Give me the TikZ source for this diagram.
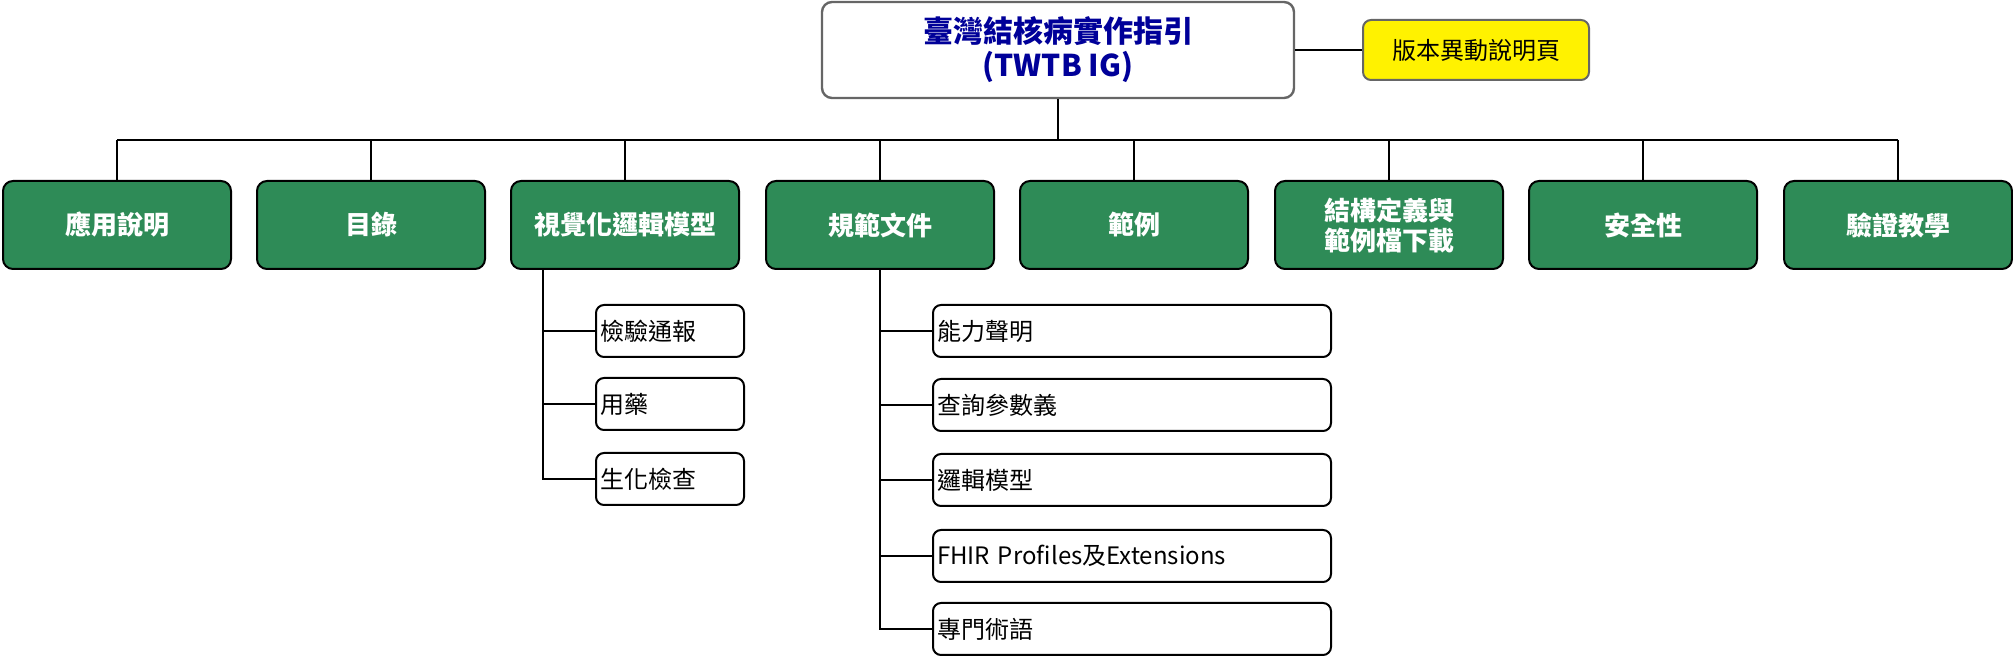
\documentclass[tikz,border=0pt]{standalone}
\usepackage{fontspec}
\setmainfont{Noto Sans CJK TC}
\begin{document}
\begin{tikzpicture}[x=0.5pt,y=-0.5pt,
 top/.style={draw=gray!80!black,line width=1.2pt,rounded corners=5pt,fill=white,minimum width=236pt,minimum height=48pt,align=center,font=\fontsize{15}{17}\selectfont\bfseries,text=blue!60!black},
 yel/.style={draw=gray!80!black,line width=1pt,rounded corners=4pt,fill=yellow,minimum width=113pt,minimum height=30pt,font=\fontsize{12}{14}\selectfont},
 grn/.style={draw=black,line width=1pt,rounded corners=5pt,fill={rgb,255:red,46;green,139;blue,87},text=white,minimum width=114pt,minimum height=44pt,align=center,font=\fontsize{13}{15}\selectfont\bfseries},
 sub/.style={draw=black,line width=1pt,rounded corners=4pt,fill=white,minimum height=26pt,anchor=west,text width=#1,inner xsep=2pt,align=left,font=\fontsize{12}{14}\selectfont},
 ln/.style={line width=1.2pt}]
\useasboundingbox (0,0) rectangle (2013,656);
\node[top] (t) at (1058,50) {臺灣結核病實作指引\\(TWTB IG)};
\node[yel] (y) at (1476,50) {版本異動說明頁};
\draw[ln] (t.east) -- (y.west);
\coordinate (b) at (1058,140);
\draw[ln] (t.south) -- (b);
\draw[ln] (117,140) -- (1898,140);
\foreach \n/\x/\t in {g1/117/應用說明,g2/371/目錄,g3/625/視覺化邏輯模型,g4/880/規範文件,g5/1134/範例,g6/1389/{結構定義與\\範例檔下載},g7/1643/安全性,g8/1898/驗證教學}{
 \coordinate (c\n) at (\x,140);
 \node[grn] (\n) at (\x,225) {\t};
 \draw[ln] (c\n) -- (\n.north);
}
\foreach \n/\y/\t in {v1/331/檢驗通報,v2/404/用藥,v3/479/生化檢查}{
 \node[sub=70pt] (\n) at (595,\y) {\t};
}
\coordinate (v) at (543,479);
\draw[ln] (g3.south -| v) -- (v) -- (v3.west);
\foreach \n in {v1,v2} \draw[ln] (\n.west -| v) -- (\n.west);
\foreach \n/\y/\t in {s1/331/能力聲明,s2/405/查詢參數義,s3/480/邏輯模型,s4/556/FHIR Profiles及Extensions,s5/629/專門術語}{
 \node[sub=195pt] (\n) at (932,\y) {\t};
}
\coordinate (s) at (880,629);
\draw[ln] (g4.south) -- (s) -- (s5.west);
\foreach \n in {s1,s2,s3,s4} \draw[ln] (\n.west -| s) -- (\n.west);
\end{tikzpicture}
\end{document}
